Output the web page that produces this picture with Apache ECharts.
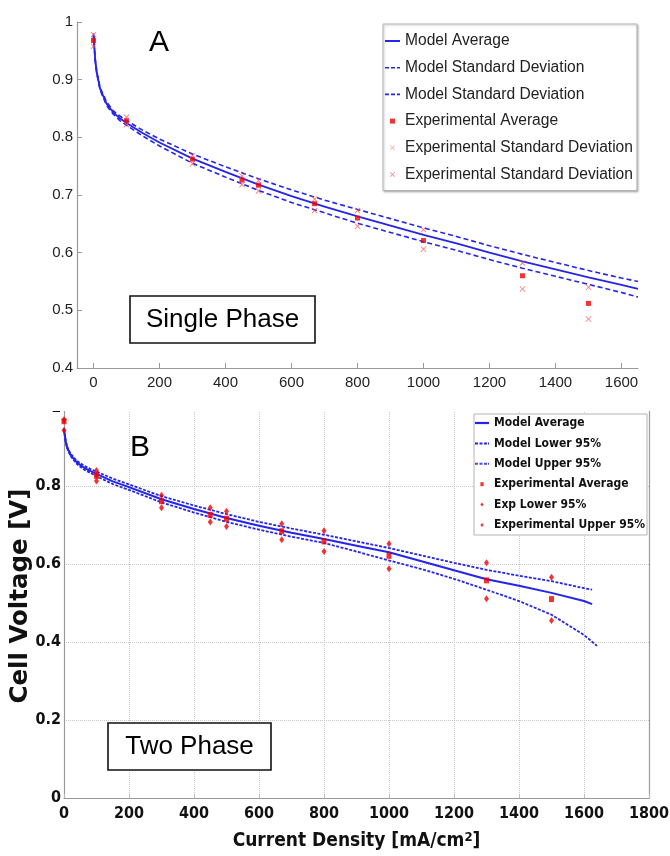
<!DOCTYPE html>
<html>
<head>
<meta charset="utf-8">
<script src="https://cdn.jsdelivr.net/npm/echarts@6/dist/echarts.min.js"></script>
<style>
  html, body { margin: 0; padding: 0; background: #fff; }
  #main { width: 670px; height: 856px; }
</style>
</head>
<body>
<div id="main"></div>
<script>
// ---- data ----
var expX = [0, 100, 300, 450, 500, 670, 800, 1000, 1300, 1500];

// panel A (single phase)
var modelXA = [0, 5, 10, 20, 40, 60, 80, 100, 150, 200, 300, 400, 500, 600, 700, 800, 900, 1000, 1100, 1200, 1300, 1400, 1500, 1600, 1650];
var modelAvgA = [0.978, 0.935, 0.912, 0.884, 0.858, 0.843, 0.833, 0.825, 0.807, 0.791, 0.763, 0.740, 0.718, 0.698, 0.680, 0.663, 0.647, 0.631, 0.616, 0.600, 0.585, 0.571, 0.557, 0.544, 0.537];
var modelUpA = [0.980, 0.937, 0.914, 0.886, 0.861, 0.846, 0.837, 0.829, 0.812, 0.797, 0.771, 0.749, 0.728, 0.709, 0.691, 0.675, 0.659, 0.643, 0.628, 0.612, 0.597, 0.583, 0.569, 0.556, 0.550];
var modelLowA = [0.976, 0.933, 0.910, 0.882, 0.855, 0.840, 0.829, 0.821, 0.802, 0.785, 0.755, 0.731, 0.708, 0.687, 0.669, 0.651, 0.635, 0.619, 0.604, 0.588, 0.573, 0.559, 0.545, 0.531, 0.523];
var expAvgA = [0.968, 0.829, 0.762, 0.726, 0.717, 0.685, 0.660, 0.621, 0.560, 0.512];
var expUpA = [0.978, 0.835, 0.768, 0.733, 0.725, 0.693, 0.673, 0.640, 0.582, 0.540];
var expLowA = [0.958, 0.822, 0.754, 0.718, 0.707, 0.673, 0.646, 0.606, 0.537, 0.485];

// panel B (two phase)
var modelXB = [0, 5, 10, 20, 40, 60, 80, 100, 150, 200, 300, 400, 500, 600, 700, 800, 900, 1000, 1100, 1200, 1300, 1400, 1500, 1600, 1625];
var lowerXB = [0, 5, 10, 20, 40, 60, 80, 100, 150, 200, 300, 400, 500, 600, 700, 800, 900, 1000, 1100, 1200, 1300, 1400, 1500, 1600, 1640];
var modelAvgB = [0.945, 0.915, 0.898, 0.880, 0.860, 0.848, 0.839, 0.831, 0.812, 0.797, 0.766, 0.741, 0.718, 0.698, 0.680, 0.664, 0.647, 0.630, 0.607, 0.584, 0.561, 0.544, 0.526, 0.505, 0.497];
var modelUpB = [0.947, 0.917, 0.900, 0.883, 0.864, 0.853, 0.844, 0.837, 0.819, 0.804, 0.774, 0.750, 0.728, 0.708, 0.691, 0.675, 0.658, 0.641, 0.622, 0.603, 0.585, 0.570, 0.556, 0.538, 0.534];
var modelLowB = [0.943, 0.913, 0.896, 0.877, 0.856, 0.843, 0.834, 0.825, 0.805, 0.790, 0.758, 0.732, 0.708, 0.688, 0.670, 0.654, 0.632, 0.609, 0.587, 0.562, 0.534, 0.505, 0.470, 0.418, 0.390];
var expAvgB = [0.966, 0.826, 0.761, 0.726, 0.716, 0.684, 0.658, 0.621, 0.558, 0.510];
var expUpB = [0.970, 0.840, 0.776, 0.744, 0.735, 0.703, 0.685, 0.652, 0.603, 0.566];
var expLowB = [0.943, 0.813, 0.744, 0.708, 0.696, 0.662, 0.632, 0.588, 0.511, 0.455];

var ticksXA = [0, 200, 400, 600, 800, 1000, 1200, 1400, 1600];

var namesA = ['Model Average', 'Model Standard Deviation', 'Model Standard Deviation', 'Experimental Average', 'Experimental Standard Deviation', 'Experimental Standard Deviation'];
var namesB = ['Model Average', 'Model Lower 95%', 'Model Upper 95%', 'Experimental Average', 'Exp Lower 95%', 'Experimental Upper 95%'];

// ---- helpers ----
function pairs(xs, ys) {
    var out = [];
    for (var i = 0; i < xs.length; i++) out.push([xs[i], ys[i]]);
    return out;
}
// series names get a prefix so same texts can repeat; legend strips it
function key(panel, i) { return panel + i + '|' + (panel === 'A' ? namesA[i] : namesB[i]); }
function plain(v) { return String(v); }

var BLUE = '#2424ee';
var RED = '#f00000';
var PINK = '#f25a5a';
var AXIS = '#9a9a9a';
var XMARK = 'path://M0,1L1,0L5,4L9,0L10,1L6,5L10,9L9,10L5,6L1,10L0,9L4,5Z';
var fontA = "'Liberation Sans', Arial, sans-serif";
var fontB = "'DejaVu Sans Condensed', 'DejaVu Sans', sans-serif";

var myChart = echarts.init(document.getElementById('main'));

var option = {
    animation: false,
    backgroundColor: '#fff',
    grid: [
        {left: 77, right: 32, top: 22, bottom: 488, outerBoundsMode: 'none'},
        {left: 64, right: 21, top: 408, bottom: 58, outerBoundsMode: 'none'}
    ],
    xAxis: [
        {
            gridIndex: 0, type: 'value', min: -50, max: 1650,
            axisLine: {show: true, onZero: false, lineStyle: {color: AXIS, width: 1.2}},
            axisTick: {show: true, inside: true, length: 5, customValues: ticksXA, lineStyle: {color: AXIS}},
            axisLabel: {customValues: ticksXA, formatter: plain, margin: 7, fontSize: 15, color: '#222', fontFamily: fontA},
            splitLine: {show: false}
        },
        {
            gridIndex: 1, type: 'value', min: 0, max: 1800, interval: 200,
            axisLine: {show: true, onZero: false, lineStyle: {color: AXIS, width: 1.2}},
            axisTick: {show: true, inside: true, length: 4, lineStyle: {color: '#bbb'}},
            axisLabel: {formatter: plain, margin: 8, fontSize: 16, fontWeight: 'bold', color: '#111', fontFamily: fontB},
            splitLine: {show: true, lineStyle: {color: '#c8c8c8', type: 'dotted'}},
            name: 'Current Density [mA/cm{sup|2}]',
            nameLocation: 'middle', nameGap: 33,
            nameTextStyle: {
                fontSize: 19, fontWeight: 'bold', color: '#111', fontFamily: fontB,
                rich: {sup: {fontSize: 13, fontWeight: 'bold', color: '#111', fontFamily: fontB, verticalAlign: 'top', padding: [0, 0, 8, 0]}}
            }
        }
    ],
    yAxis: [
        {
            gridIndex: 0, type: 'value', min: 0.4, max: 1, interval: 0.1,
            axisLine: {show: true, onZero: false, lineStyle: {color: AXIS, width: 1.2}},
            axisTick: {show: true, inside: true, length: 5, lineStyle: {color: AXIS}},
            axisLabel: {margin: 4, fontSize: 15, color: '#222', fontFamily: fontA},
            splitLine: {show: false}
        },
        {
            gridIndex: 1, type: 'value', min: 0, max: 1, interval: 0.2,
            axisLine: {show: true, onZero: false, lineStyle: {color: AXIS, width: 1.2}},
            axisTick: {show: false},
            axisLabel: {margin: 3, fontSize: 16, fontWeight: 'bold', color: '#111', fontFamily: fontB},
            splitLine: {show: true, lineStyle: {color: '#c8c8c8', type: 'dotted'}},
            name: 'Cell Voltage [V]',
            nameLocation: 'middle', nameGap: 31, nameRotate: 90, nameMoveOverlap: false,
            nameTextStyle: {fontSize: 24.5, fontWeight: 'bold', color: '#111', fontFamily: "'DejaVu Sans', sans-serif", padding: [0, 0, 0, 14]}
        },
        {
            gridIndex: 1, type: 'value', min: 0, max: 1, position: 'right',
            axisLine: {show: true, onZero: false, lineStyle: {color: AXIS, width: 1.2}},
            axisTick: {show: false}, axisLabel: {show: false}, splitLine: {show: false}
        }
    ],
    legend: [
        {
            left: 383, top: 24, orient: 'vertical',
            itemWidth: 15, itemHeight: 5, itemGap: 10.7,
            padding: [9, 4, 8, 2],
            backgroundColor: '#fff', borderColor: '#b4b4b4', borderWidth: 1,
            shadowColor: 'rgba(0,0,0,0.25)', shadowBlur: 2, shadowOffsetX: 1, shadowOffsetY: 1,
            itemStyle: {borderWidth: 0},
            textStyle: {fontSize: 15.6, color: '#222', fontFamily: fontA},
            formatter: function (n) { return n.split('|')[1]; },
            data: [
                {name: key('A', 0), icon: 'path://M0,0h15v2h-15z', itemStyle: {color: BLUE}},
                {name: key('A', 1), icon: 'path://M0,0h4v1.6h-4zM6,0h4v1.6h-4zM12,0h3v1.6h-3z', itemStyle: {color: BLUE}},
                {name: key('A', 2), icon: 'path://M0,0h4v1.6h-4zM6,0h4v1.6h-4zM12,0h3v1.6h-3z', itemStyle: {color: BLUE}},
                {name: key('A', 3), icon: 'path://M0,0h4v4h-4z', itemStyle: {color: RED}},
                {name: key('A', 4), icon: XMARK, itemStyle: {color: '#f49090'}},
                {name: key('A', 5), icon: XMARK, itemStyle: {color: PINK}}
            ]
        },
        {
            left: 474, top: 414, orient: 'vertical',
            itemWidth: 14, itemHeight: 4, itemGap: 8.4,
            padding: [3, 2, 4, 1],
            backgroundColor: '#fff', borderColor: '#b4b4b4', borderWidth: 1,
            itemStyle: {borderWidth: 0},
            textStyle: {fontSize: 12, fontWeight: 'bold', color: '#111', fontFamily: fontB},
            formatter: function (n) { return n.split('|')[1]; },
            data: [
                {name: key('B', 0), icon: 'path://M0,0h14v2.2h-14z', itemStyle: {color: BLUE}},
                {name: key('B', 1), icon: 'path://M0,0h3v2h-3zM4.5,0h3v2h-3zM9,0h3v2h-3zM13,0h1v2h-1z', itemStyle: {color: BLUE}},
                {name: key('B', 2), icon: 'path://M0,0h3v2h-3zM4.5,0h3v2h-3zM9,0h3v2h-3zM13,0h1v2h-1z', itemStyle: {color: '#4a4af0'}},
                {name: key('B', 3), icon: 'path://M0,0h4v5h-4z', itemStyle: {color: RED}},
                {name: key('B', 4), icon: 'path://M2,0L4,2.5L2,5L0,2.5Z', itemStyle: {color: RED}},
                {name: key('B', 5), icon: 'path://M2,0L4,2.5L2,5L0,2.5Z', itemStyle: {color: RED}}
            ]
        }
    ],
    graphic: [
        {type: 'text', x: 159, y: 43, style: {text: 'A', fontSize: 30, fontFamily: fontA, fill: '#000', align: 'center', verticalAlign: 'middle'}},
        {type: 'rect', shape: {x: 130, y: 296, width: 185, height: 47}, style: {fill: '#fff', stroke: '#111', lineWidth: 1.6}, z: 50},
        {type: 'text', x: 222.5, y: 320, style: {text: 'Single Phase', fontSize: 26, fontFamily: fontA, fill: '#000', align: 'center', verticalAlign: 'middle'}, z: 51},
        {type: 'text', x: 140, y: 448, style: {text: 'B', fontSize: 30, fontFamily: fontA, fill: '#000', align: 'center', verticalAlign: 'middle'}},
        {type: 'rect', shape: {x: 108, y: 723, width: 163, height: 47}, style: {fill: '#fff', stroke: '#111', lineWidth: 1.6}, z: 50},
        {type: 'text', x: 189.5, y: 747, style: {text: 'Two Phase', fontSize: 26, fontFamily: fontA, fill: '#000', align: 'center', verticalAlign: 'middle'}, z: 51},
        // the lower panel is cropped just under its top edge in the original figure
        {type: 'rect', shape: {x: 0, y: 397, width: 670, height: 14}, style: {fill: '#fff'}, z: 100}
    ],
    series: [
        // panel A
        {name: key('A', 0), type: 'line', xAxisIndex: 0, yAxisIndex: 0, data: pairs(modelXA, modelAvgA), showSymbol: false, symbol: 'none', lineStyle: {color: BLUE, width: 1.8}, itemStyle: {color: BLUE}, z: 3},
        {name: key('A', 1), type: 'line', xAxisIndex: 0, yAxisIndex: 0, data: pairs(modelXA, modelUpA), showSymbol: false, symbol: 'none', lineStyle: {color: BLUE, width: 1.6, type: [5, 3]}, itemStyle: {color: BLUE}, z: 3},
        {name: key('A', 2), type: 'line', xAxisIndex: 0, yAxisIndex: 0, data: pairs(modelXA, modelLowA), showSymbol: false, symbol: 'none', lineStyle: {color: BLUE, width: 1.6, type: [5, 3]}, itemStyle: {color: BLUE}, z: 3},
        {name: key('A', 3), type: 'scatter', xAxisIndex: 0, yAxisIndex: 0, data: pairs(expX, expAvgA), symbol: 'rect', symbolSize: 5, itemStyle: {color: RED}, z: 4},
        {name: key('A', 4), type: 'scatter', xAxisIndex: 0, yAxisIndex: 0, data: pairs(expX, expUpA), symbol: XMARK, symbolSize: 6, itemStyle: {color: PINK}, z: 4},
        {name: key('A', 5), type: 'scatter', xAxisIndex: 0, yAxisIndex: 0, data: pairs(expX, expLowA), symbol: XMARK, symbolSize: 6, itemStyle: {color: PINK}, z: 4},
        // panel B
        {name: key('B', 0), type: 'line', xAxisIndex: 1, yAxisIndex: 1, data: pairs(modelXB, modelAvgB), showSymbol: false, symbol: 'none', lineStyle: {color: BLUE, width: 2}, itemStyle: {color: BLUE}, z: 3},
        {name: key('B', 1), type: 'line', xAxisIndex: 1, yAxisIndex: 1, data: pairs(lowerXB, modelLowB), showSymbol: false, symbol: 'none', lineStyle: {color: BLUE, width: 1.8, type: [3, 1.5]}, itemStyle: {color: BLUE}, z: 3},
        {name: key('B', 2), type: 'line', xAxisIndex: 1, yAxisIndex: 1, data: pairs(modelXB, modelUpB), showSymbol: false, symbol: 'none', lineStyle: {color: BLUE, width: 1.8, type: [3, 1.5]}, itemStyle: {color: BLUE}, z: 3},
        {name: key('B', 3), type: 'scatter', xAxisIndex: 1, yAxisIndex: 1, data: pairs(expX, expAvgB), symbol: 'rect', symbolSize: [5, 6], itemStyle: {color: RED}, z: 4},
        {name: key('B', 4), type: 'scatter', xAxisIndex: 1, yAxisIndex: 1, data: pairs(expX, expLowB), symbol: 'diamond', symbolSize: [5, 7], itemStyle: {color: RED}, z: 4},
        {name: key('B', 5), type: 'scatter', xAxisIndex: 1, yAxisIndex: 1, data: pairs(expX, expUpB), symbol: 'diamond', symbolSize: [5, 7], itemStyle: {color: RED}, z: 4}
    ]
};

myChart.setOption(option);
</script>
</body>
</html>
